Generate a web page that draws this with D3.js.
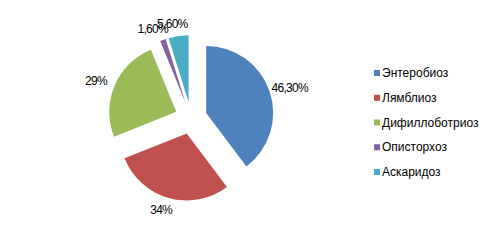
<!DOCTYPE html>
<html>
<head>
<meta charset="utf-8">
<script src="https://cdn.jsdelivr.net/npm/d3@7"></script>
<style>
  body { margin: 0; background: #fff; }
  text { font-family: "Liberation Sans", Arial, sans-serif; font-size: 12px; fill: #000; }
  text.lbl { letter-spacing: -0.7px; }
</style>
</head>
<body>
<div id="chart"></div>
<script>
var categories = ["Энтеробиоз", "Лямблиоз", "Дифиллоботриоз", "Описторхоз", "Аскаридоз"];
var values = [46.3, 34, 29, 1.6, 5.6];
var valueLabels = ["46,30%", "34%", "29%", "1,60%", "5,60%"];
var colors = ["#4F81BD", "#C0504D", "#9BBB59", "#8064A2", "#4BACC6"];

var W = 492, H = 245;
var cx = 191, cy = 118, r = 67, explode = 16, labelR = 89;

var svg = d3.select("#chart").append("svg")
    .attr("width", W).attr("height", H);

var data = categories.map(function(c, i){
    return {name: c, value: values[i], label: valueLabels[i], color: colors[i]};
});

var pie = d3.pie().sort(null).value(function(d){ return d.value; });
var arc = d3.arc().innerRadius(0).outerRadius(r);

var g = svg.append("g").attr("transform", "translate(" + cx + "," + cy + ")");

var slices = pie(data);

g.selectAll("path").data(slices).enter().append("path")
    .attr("d", arc)
    .attr("fill", function(d){ return d.data.color; })
    .attr("transform", function(d){
        var a = (d.startAngle + d.endAngle) / 2;
        return "translate(" + (Math.sin(a) * explode) + "," + (-Math.cos(a) * explode) + ")";
    });

// labels: box edge sits at labelR along the mid angle
var labels = g.selectAll("text.lbl").data(slices).enter().append("text")
    .attr("class", "lbl")
    .attr("text-anchor", "middle")
    .attr("dy", "0.35em")
    .text(function(d){ return d.data.label; });

labels.each(function(d){
    var a = (d.startAngle + d.endAngle) / 2;
    var dx = Math.sin(a), dy = -Math.cos(a);
    var w = this.getComputedTextLength(), h = 12;
    d3.select(this)
        .attr("x", dx * labelR + dx * w / 2 - 3)
        .attr("y", dy * labelR + dy * h / 2);
});

// legend
var y = d3.scalePoint().domain(categories).range([73, 172]);
var leg = svg.append("g").selectAll("g").data(data).enter().append("g")
    .attr("transform", function(d){ return "translate(374," + y(d.name) + ")"; });

leg.append("rect")
    .attr("x", 0).attr("y", -3)
    .attr("width", 6).attr("height", 6)
    .attr("fill", function(d){ return d.color; });

leg.append("text")
    .attr("x", 8).attr("dy", "0.35em")
    .text(function(d){ return d.name; });
</script>
</body>
</html>
